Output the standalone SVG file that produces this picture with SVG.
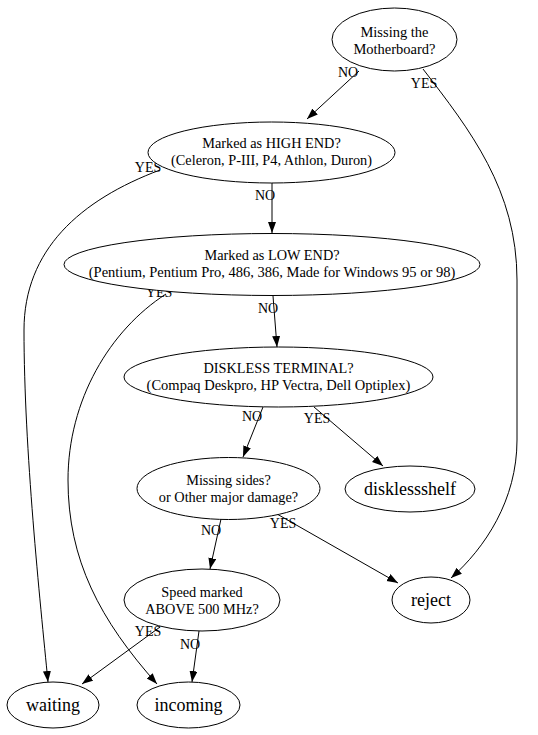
<svg xmlns="http://www.w3.org/2000/svg" width="538" height="735" viewBox="0 0 538 735">
<style>
.n{fill:#fff;stroke:#000;stroke-width:1}
.e{fill:none;stroke:#000;stroke-width:1}
</style>
<defs>
<marker id="a" markerUnits="userSpaceOnUse" markerWidth="12" markerHeight="10" refX="11" refY="4" orient="auto">
<path d="M0,0 L11,4 L0,8 Z" fill="#000"/>
</marker>
</defs>
<rect width="538" height="735" fill="#fff"/>
<g id="edges">
<path class="e" d="M359,71 L307,119" marker-end="url(#a)"/>
<path class="e" d="M423,69 C470,130 517,190 517,280 L517,440 C517,500 485,548 451,578" marker-end="url(#a)"/>
<path class="e" d="M160,170 C80,200 24,250 24,330 C24,450 40,600 48,682" marker-end="url(#a)"/>
<path class="e" d="M272,183 L272,233" marker-end="url(#a)"/>
<path class="e" d="M166,294 C110,330 68,400 68,480 C68,560 100,620 157,684" marker-end="url(#a)"/>
<path class="e" d="M273,296 L277,347" marker-end="url(#a)"/>
<path class="e" d="M263,407 L243,457" marker-end="url(#a)"/>
<path class="e" d="M314,407 L383,466" marker-end="url(#a)"/>
<path class="e" d="M221,519 L210,569" marker-end="url(#a)"/>
<path class="e" d="M277,514 L398,583" marker-end="url(#a)"/>
<path class="e" d="M160,627 L82,684" marker-end="url(#a)"/>
<path class="e" d="M199,631 L192,682" marker-end="url(#a)"/>
<text font-family="Liberation Serif" font-size="14" text-anchor="middle" x="348" y="77">NO</text>
<text font-family="Liberation Serif" font-size="14" text-anchor="middle" x="424" y="88">YES</text>
<text font-family="Liberation Serif" font-size="14" text-anchor="middle" x="148" y="172">YES</text>
<text font-family="Liberation Serif" font-size="14" text-anchor="middle" x="265" y="200">NO</text>
<text font-family="Liberation Serif" font-size="14" text-anchor="middle" x="159" y="297">YES</text>
<text font-family="Liberation Serif" font-size="14" text-anchor="middle" x="268" y="313">NO</text>
<text font-family="Liberation Serif" font-size="14" text-anchor="middle" x="252" y="421">NO</text>
<text font-family="Liberation Serif" font-size="14" text-anchor="middle" x="317" y="423">YES</text>
<text font-family="Liberation Serif" font-size="14" text-anchor="middle" x="211" y="535">NO</text>
<text font-family="Liberation Serif" font-size="14" text-anchor="middle" x="283" y="528">YES</text>
<text font-family="Liberation Serif" font-size="14" text-anchor="middle" x="148" y="636">YES</text>
<text font-family="Liberation Serif" font-size="14" text-anchor="middle" x="190" y="649">NO</text>
</g>
<g id="motherboard">
<ellipse class="n" cx="394.5" cy="39.5" rx="62.5" ry="31.5"/>
<text font-family="Liberation Serif" font-size="14.5" text-anchor="middle" x="394.5" y="37">Missing the</text>
<text font-family="Liberation Serif" font-size="14.5" text-anchor="middle" x="394.5" y="54">Motherboard?</text>
</g>
<g id="highend">
<ellipse class="n" cx="271.5" cy="152.5" rx="123.5" ry="30.5"/>
<text font-family="Liberation Serif" font-size="14.3" text-anchor="middle" x="271.5" y="148">Marked as HIGH END?</text>
<text font-family="Liberation Serif" font-size="14.3" text-anchor="middle" x="271.5" y="165">(Celeron, P-III, P4, Athlon, Duron)</text>
</g>
<g id="lowend">
<ellipse class="n" cx="272" cy="264.5" rx="208" ry="31"/>
<text font-family="Liberation Serif" font-size="14.3" text-anchor="middle" x="272" y="260">Marked as LOW END?</text>
<text font-family="Liberation Serif" font-size="14.5" text-anchor="middle" x="272" y="277">(Pentium, Pentium Pro, 486, 386, Made for Windows 95 or 98)</text>
</g>
<g id="diskless">
<ellipse class="n" cx="278.5" cy="377" rx="154.5" ry="30"/>
<text font-family="Liberation Serif" font-size="14.3" text-anchor="middle" x="278.5" y="373">DISKLESS TERMINAL?</text>
<text font-family="Liberation Serif" font-size="14.5" text-anchor="middle" x="278.5" y="390">(Compaq Deskpro, HP Vectra, Dell Optiplex)</text>
</g>
<g id="missingsides">
<ellipse class="n" cx="228.5" cy="488.5" rx="91.5" ry="31"/>
<text font-family="Liberation Serif" font-size="14.3" text-anchor="middle" x="228.5" y="485">Missing sides?</text>
<text font-family="Liberation Serif" font-size="14.3" text-anchor="middle" x="228.5" y="502">or Other major damage?</text>
</g>
<g id="disklessshelf">
<ellipse class="n" cx="410" cy="489" rx="65" ry="23"/>
<text font-family="Liberation Serif" font-size="18" text-anchor="middle" x="410" y="495">disklessshelf</text>
</g>
<g id="reject">
<ellipse class="n" cx="431" cy="600" rx="39" ry="23"/>
<text font-family="Liberation Serif" font-size="18" text-anchor="middle" x="431" y="606">reject</text>
</g>
<g id="speed">
<ellipse class="n" cx="202" cy="600" rx="78" ry="31"/>
<text font-family="Liberation Serif" font-size="14.3" text-anchor="middle" x="202" y="597">Speed marked</text>
<text font-family="Liberation Serif" font-size="14.3" text-anchor="middle" x="202" y="614">ABOVE 500 MHz?</text>
</g>
<g id="waiting">
<ellipse class="n" cx="53" cy="705" rx="46" ry="23"/>
<text font-family="Liberation Serif" font-size="18" text-anchor="middle" x="53" y="711">waiting</text>
</g>
<g id="incoming">
<ellipse class="n" cx="188.5" cy="705" rx="51.5" ry="23"/>
<text font-family="Liberation Serif" font-size="18" text-anchor="middle" x="188.5" y="711">incoming</text>
</g>
</svg>
